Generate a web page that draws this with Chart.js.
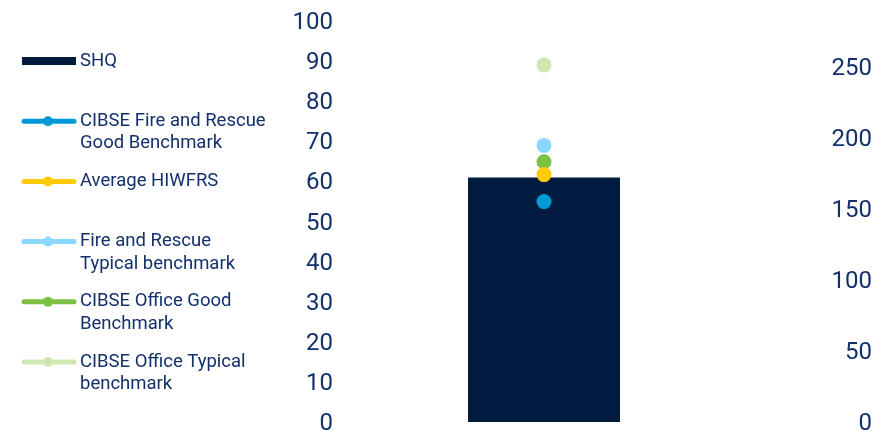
<!DOCTYPE html>
<html>
<head>
<meta charset="utf-8">
<script src="https://cdn.jsdelivr.net/npm/chart.js@4/dist/chart.umd.min.js"></script>
<style>
  html, body { margin: 0; padding: 0; background: #fff; }
  #wrap { width: 884px; height: 439px; }
</style>
</head>
<body>
<div id="wrap"><canvas id="chart" width="884" height="439"></canvas></div>
<script>
// chart data
const categories = ['SHQ'];
const barName = 'SHQ';
const barValues = [61];
const benchmarkNames = [
  'CIBSE Fire and Rescue\nGood Benchmark',
  'Average HIWFRS',
  'Fire and Rescue\nTypical benchmark',
  'CIBSE Office Good\nBenchmark',
  'CIBSE Office Typical\nbenchmark'
];
const benchmarkValues = [155, 174, 194.5, 183, 251];
const benchmarkColors = ['#009ad9', '#ffcb05', '#8ad8ff', '#7cc242', '#cde8b0'];
const leftTicks = [0, 10, 20, 30, 40, 50, 60, 70, 80, 90, 100];
const rightTicks = [0, 50, 100, 150, 200, 250];

const textColor = '#12306b';
const barColor = '#001b3d';

// legend drawn on the left side, one entry every ~60px
const sideLegend = {
  id: 'sideLegend',
  afterDraw(chart) {
    const ctx = chart.ctx;
    ctx.save();
    ctx.font = '18.5px Roboto';
    ctx.fillStyle = textColor;
    ctx.textBaseline = 'middle';
    ctx.textAlign = 'left';
    chart.data.datasets.forEach((ds, i) => {
      const y = 61 + i * 60.2;
      if (ds.type === 'bar') {
        ctx.fillStyle = ds.backgroundColor;
        ctx.fillRect(22, y - 4, 54, 8);
      } else {
        ctx.strokeStyle = ds.backgroundColor;
        ctx.lineWidth = 5;
        ctx.lineCap = 'round';
        ctx.beginPath();
        ctx.moveTo(24, y);
        ctx.lineTo(74, y);
        ctx.stroke();
        ctx.fillStyle = ds.backgroundColor;
        ctx.beginPath();
        ctx.arc(48, y, 5, 0, Math.PI * 2);
        ctx.fill();
      }
      ctx.fillStyle = textColor;
      ds.label.split('\n').forEach((line, k) => {
        ctx.fillText(line, 80, y + k * 22.5);
      });
    });
    ctx.restore();
  }
};

const datasets = [{
  type: 'bar',
  label: barName,
  data: barValues,
  backgroundColor: barColor,
  yAxisID: 'y',
  order: 1,
  barPercentage: 0.3725,
  categoryPercentage: 1
}];
benchmarkNames.forEach((name, i) => {
  datasets.push({
    type: 'line',
    label: name,
    data: [benchmarkValues[i]],
    backgroundColor: benchmarkColors[i],
    borderColor: benchmarkColors[i],
    showLine: false,
    pointRadius: 7.5,
    pointBorderWidth: 0,
    yAxisID: 'y1',
    order: 0
  });
});

function fitAxis(width) {
  return s => {
    s.width = width;
    s.paddingTop = 0;
    s.paddingBottom = 0;
  };
}

new Chart(document.getElementById('chart'), {
  data: { labels: categories, datasets },
  plugins: [sideLegend],
  options: {
    responsive: false,
    animation: false,
    layout: { padding: { left: 290, right: 12, top: 21, bottom: 17 } },
    plugins: { legend: { display: false }, tooltip: { enabled: false } },
    scales: {
      x: { display: false, offset: true },
      y: {
        position: 'left',
        min: 0,
        max: 100,
        afterBuildTicks: s => { s.ticks = leftTicks.map(v => ({ value: v })); },
        afterFit: fitAxis(50),
        grid: { display: false, drawTicks: false },
        border: { display: false },
        ticks: { color: textColor, padding: 7, labelOffset: 2, font: { family: 'Roboto', size: 24 } }
      },
      y1: {
        position: 'right',
        min: 0,
        max: 282,
        afterBuildTicks: s => { s.ticks = rightTicks.map(v => ({ value: v })); },
        afterFit: fitAxis(124),
        grid: { display: false, drawTicks: false },
        border: { display: false },
        ticks: { color: textColor, crossAlign: 'far', labelOffset: 2, font: { family: 'Roboto', size: 24 } }
      }
    }
  }
});
</script>
</body>
</html>
